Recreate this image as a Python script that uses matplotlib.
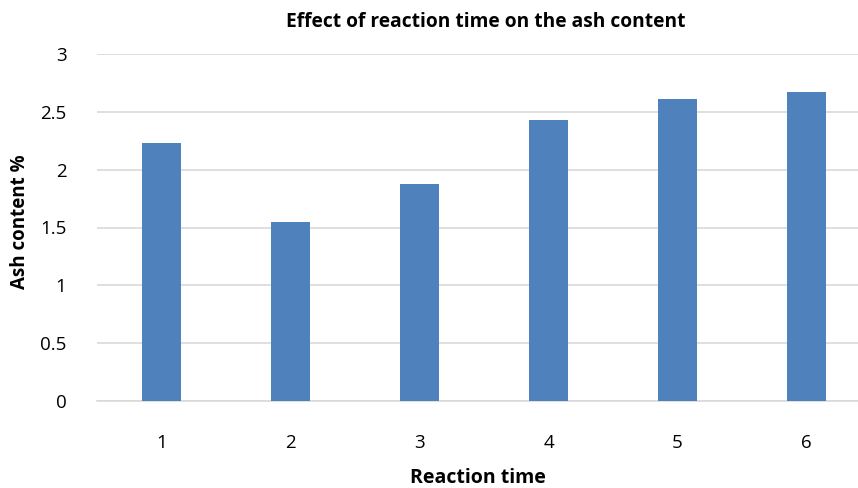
import matplotlib
matplotlib.use("Agg")
import matplotlib.pyplot as plt

categories = ["1", "2", "3", "4", "5", "6"]
ash_content = [2.23, 1.55, 1.88, 2.43, 2.61, 2.67]
y_ticks = [0, 0.5, 1, 1.5, 2, 2.5, 3]
y_tick_labels = ["0", "0.5", "1", "1.5", "2", "2.5", "3"]

plt.rcParams['font.family'] = ['Open Sans', 'DejaVu Sans']

W, H = 858, 488
fig = plt.figure(figsize=(W/100, H/100), dpi=100)
left, right, bottom, top = 97, 858, 401, 54
ax = fig.add_axes([left/W, 1 - bottom/H, (right-left)/W, (bottom-top)/H])

x = list(range(1, len(categories)+1))
ax.bar(x, ash_content, width=0.31, color="#4F81BD", zorder=3)
ax.set_xlim(0.5, 0.5 + (right-left)/129)
ax.set_ylim(0, 3)
ax.set_yticks(y_ticks)
ax.set_yticklabels(y_tick_labels)
ax.set_xticks(x)
ax.set_xticklabels(categories)
ax.grid(axis='y', color="#D9D9D9", linewidth=1.2, zorder=0)
for s in ["top", "right", "left"]:
    ax.spines[s].set_visible(False)
ax.spines["bottom"].set_color("#D9D9D9")
ax.spines["bottom"].set_linewidth(1.2)
ax.tick_params(axis='both', length=0, labelsize=13.5, colors="#000000")
ax.tick_params(axis='y', pad=22)
ax.tick_params(axis='x', pad=24)

fig.text(486/W, 1 - 22/H, "Effect of reaction time on the ash content", ha='center', va='center',
         fontsize=13.8, fontweight='bold')
fig.text(478/W, 1 - 478/H, "Reaction time", ha='center', va='center', fontsize=14, fontweight='bold')
fig.text(20/W, 1 - 222/H, "Ash content %", ha='center', va='center', rotation=90, fontsize=13.5, fontweight='bold')

fig.savefig("out.png", dpi=100)
